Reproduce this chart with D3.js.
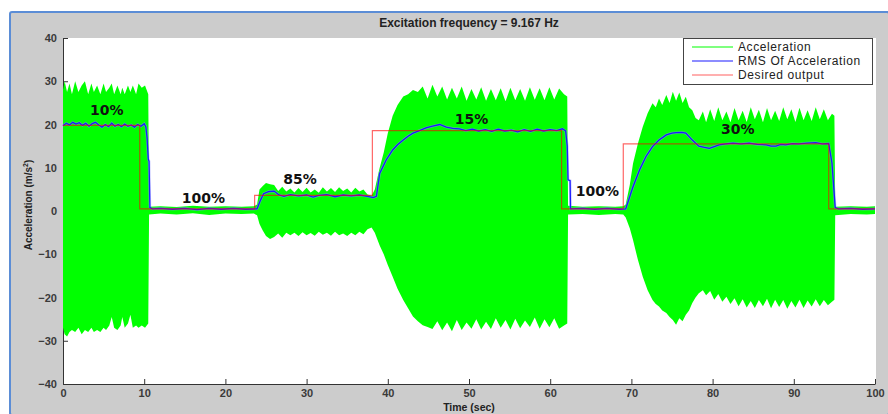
<!DOCTYPE html>
<html>
<head>
<meta charset="utf-8">
<script src="https://cdn.jsdelivr.net/npm/d3@7"></script>
<style>
  body { margin: 0; background: #fff; }
  svg { display: block; }
  .tick text { font-family: "Liberation Sans", Arial, sans-serif; font-weight: bold; fill: #3a3a3a; font-size: 11px; }
  .tick line, .domain { stroke: #333; }
</style>
</head>
<body>
<svg id="chart"></svg>
<script>
// Acceleration envelope (upper / lower peaks)
const accT = [0, 0.2, 0.5, 0.8, 1.1, 1.5, 1.9, 2.3, 2.7, 3.1, 3.5, 3.8, 4.2, 4.6, 5.0, 5.3, 5.7, 6.0, 6.3, 6.7, 7.1, 7.3, 7.6, 8.0, 8.3, 8.6, 9.0, 9.3, 9.7, 10.1, 10.5,
  10.6, 12, 14, 16, 18, 20, 22, 23.5, 23.9,
  24.2, 24.6, 25.0, 25.5, 26.0, 26.5, 27.0, 27.5, 28.0, 28.5, 29.0, 29.5, 30.0, 30.5, 31.0, 31.5, 32.0, 32.5, 33.0, 33.5, 34.0, 34.5, 35.0, 35.5, 36.0, 36.5, 37.0, 37.5, 38.0,
  38.4, 39.0, 39.5, 40.0, 40.6, 41.2, 41.9, 42.5, 43.1, 43.7, 44.3, 44.9, 45.5, 46.1, 46.7, 47.3, 47.9, 48.5, 49.1, 49.7, 50.3, 50.9, 51.5, 52.1, 52.7, 53.3, 53.9, 54.5, 55.1, 55.7, 56.3, 56.9, 57.5, 58.1, 58.7, 59.3, 59.9, 60.5, 61.1, 61.7, 62.1,
  62.2, 64, 66, 68, 69.0,
  69.3, 69.8, 70.2, 70.8, 71.4, 72.0, 72.6, 73.0, 73.4, 73.8, 74.3, 74.7, 75.1, 75.5, 75.9, 76.3, 76.7, 77.1, 77.5, 77.9, 78.3, 78.8, 79.2, 79.7, 80.2, 80.7, 81.2, 81.7, 82.2, 82.7, 83.2, 83.7, 84.2, 84.7, 85.2, 85.7, 86.2, 86.7, 87.2, 87.7, 88.2, 88.7, 89.2, 89.7, 90.2, 90.7, 91.2, 91.7, 92.2, 92.7, 93.2, 93.7, 94.2, 94.7, 95.0,
  95.1, 97, 99, 100];
const accUp = [28, 30, 27.5, 29.5, 27, 30, 27.5, 29, 30, 27, 29.5, 27.5, 29, 27, 29.5, 27.5, 28.5, 29.5, 27, 29, 27, 28.5, 27, 29, 27.5, 29, 27, 29.5, 28.5, 29, 27,
  1, 1.1, 0.9, 1.2, 1, 1.1, 1, 1.1, 1.5,
  5, 5.8, 6.5, 6.2, 6.0, 4.6, 5.6, 4.5, 5.2, 4.3, 5.3, 4.4, 5.4, 4.3, 5.0, 4.2, 5.5, 4.5, 5.3, 4.4, 5.5, 4.6, 5.2, 4.3, 5.4, 4.5, 5.0, 3.8, 3.5,
  5, 10, 13.5, 18, 22, 24.5, 26.5, 27, 28, 27.5, 28.8, 26, 29.2, 26.5, 28.8, 25.8, 28.5, 26, 28.8, 25.5, 28.2, 25.8, 28.6, 25.5, 28.2, 25.6, 28.4, 25.4, 28.5, 25.6, 28.2, 25.5, 28.6, 25.7, 28.4, 25.6, 28.6, 25.8, 28.3, 27, 26.5,
  1.2, 1, 1.1, 1, 1.1,
  1.5, 6, 11, 15.6, 19.5, 22.6, 24.9, 24, 26, 24.5, 26.8, 25, 27.6, 25.5, 27.4, 25, 26.4, 24, 23.3, 21.5, 21, 23, 20.5, 23.5, 20.8, 24, 21, 23, 20.5, 23.8, 21, 23.2, 20.6, 24, 21.2, 23.4, 20.5, 23.8, 21, 23.2, 20.8, 24, 21.2, 23.5, 20.6, 23.9, 21, 23.3, 20.8, 24, 21.2, 23.5, 21, 22.5, 22,
  1, 1.1, 1, 1.1];
const accLo = [-27, -28.5, -29, -28, -27.5, -28, -27, -28.5, -27.5, -28, -27, -28, -27.5, -28, -27, -27.5, -26.5, -24.5, -27, -27.5, -26.5, -24.5, -27, -26, -24, -27, -26.5, -27, -26.5, -27, -26,
  -0.8, -0.6, -0.8, -0.5, -0.9, -0.6, -0.7, -0.6, -1,
  -3, -4.5, -5.8, -6.5, -6.0, -5.2, -6.2, -5.0, -5.6, -5.0, -5.8, -4.9, -5.6, -5.1, -5.7, -4.8, -5.5, -5.0, -5.7, -4.8, -5.6, -5.2, -5.8, -5.0, -5.6, -4.8, -5.4, -4.2, -3.8,
  -5, -8, -10, -12.5, -15.2, -18, -20.6, -22.5, -24.4, -25.5, -26.4, -26.8, -27.3, -25.5, -27.6, -25.8, -27.8, -25.2, -27.5, -25.8, -27.2, -25, -27.4, -25.6, -27.3, -24.8, -27, -25.2, -27.4, -24.9, -27.1, -25.3, -26.8, -24.6, -27.2, -25, -26.9, -24.8, -27.2, -26.5, -26,
  -0.8, -0.7, -0.9, -0.7, -0.8,
  -1.5, -4, -6.7, -11.3, -15.2, -18.3, -20.6, -21.5, -22.1, -23, -23.6, -24.5, -25.2, -26.3, -24.8, -25.5, -24, -23, -21.3, -20, -19, -18.3, -19.5, -18.5, -20.5, -19.2, -21, -19.8, -21.5, -20.2, -22, -20.4, -22.3, -20.8, -22.4, -20.6, -22, -20.3, -22.5, -20.5, -22.2, -20.6, -22.6, -20.8, -22.3, -20.5, -22.4, -20.7, -22.1, -20.4, -22, -20.6, -21.8, -21, -20.5,
  -1, -0.7, -0.8, -0.7];

// RMS of acceleration
const rmsT = [0, 0.4, 0.8, 1.2, 1.6, 2.0, 2.4, 2.8, 3.2, 3.6, 4.0, 4.4, 4.8, 5.2, 5.6, 6.0, 6.4, 6.8, 7.2, 7.6, 8.0, 8.4, 8.8, 9.2, 9.6, 10.0, 10.2, 10.35, 10.5, 10.6, 10.7, 11,
  12, 13.5, 15, 16.5, 18, 19.5, 21, 22.5, 23.9,
  24.3, 24.7, 25.3, 26.0, 26.6, 27.2, 28, 29, 30, 30.8, 31.5, 32.5, 33.5, 34.5, 35.5, 36.5, 37.5, 38.2, 38.6,
  39.0, 39.8, 40.6, 41.2, 41.9, 42.5, 43.1, 43.9, 44.7, 45.5, 46.4, 47.2, 48.0, 48.8, 49.6, 50.4, 51.2, 52.0, 52.8, 53.6, 54.4, 55.2, 56.0, 56.8, 57.6, 58.4, 59.2, 60.0, 60.8, 61.5, 61.9, 62.1, 62.2, 62.45, 62.5,
  64, 65.5, 67, 68.5, 69.3,
  70.2, 71.0, 71.8, 72.6, 73.4, 74.3, 75.0, 75.5, 76.2, 76.7, 77.5, 78.3, 79.0, 79.6, 80.2, 80.8, 81.6, 82.5, 83.5, 84.5, 85.5, 86.6, 87.2, 87.8, 88.4, 89.0, 89.8, 90.6, 91.6, 92.7, 93.5, 94.3, 94.7, 95.1,
  95.5, 97, 98.5, 100];
const rmsV = [19.7, 20.3, 19.9, 20.5, 20.1, 20.4, 19.8, 20.3, 19.6, 20.2, 20.5, 19.9, 19.4, 20.0, 19.5, 20.3, 19.6, 20.0, 19.5, 20.1, 19.6, 19.9, 19.4, 20.0, 19.6, 20.2, 19.5, 17, 12, 11.5, 0.8, 0.5,
  0.6, 0.4, 0.6, 0.3, 0.6, 0.4, 0.6, 0.4, 0.5,
  2.4, 4.0, 4.5, 4.6, 3.7, 3.4, 3.8, 3.5, 3.7, 3.2, 3.6, 3.8, 3.3, 3.7, 3.5, 3.7, 3.4, 3.1, 3.4,
  8.7, 11.8, 14.1, 15.3, 16.4, 17.3, 18.0, 18.6, 19.2, 19.6, 20.0, 19.4, 19.1, 19.0, 18.6, 18.9, 18.5, 18.8, 18.4, 18.9, 18.5, 18.7, 18.3, 18.8, 18.4, 18.9, 18.5, 18.8, 18.6, 19.0, 18.5, 15, 7.2, 7.0, 0.5,
  0.6, 0.4, 0.6, 0.4, 0.5,
  5.6, 9.5, 12.6, 14.9, 16.4, 17.6, 18.0, 18.1, 18.2, 18.0, 16.4, 15.0, 14.7, 14.5, 14.9, 15.3, 15.5, 15.7, 15.5, 15.7, 15.4, 15.3, 15.0, 15.0, 15.4, 15.3, 15.6, 15.5, 15.7, 15.8, 15.5, 15.6, 11.1, 0.8,
  0.5, 0.6, 0.4, 0.5];

// Desired output (steps)
const desT = [0, 9.45, 23.6, 38.1, 61.4, 69.0, 94.3, 100];
const desV = [19.8, 0.5, 3.6, 18.6, 0.5, 15.5, 0.5, 0.5];

// percentage labels
const noteText = ["10%", "100%", "85%", "15%", "100%", "30%"];
const noteT = [5.4, 17.3, 29.2, 50.3, 65.8, 83.1];
const noteV = [23.4, 3.1, 7.3, 21.2, 4.7, 18.9];

const xTicks = d3.range(0, 101, 10);
const yTicks = d3.range(-40, 41, 10);
const legendNames = ["Acceleration", "RMS Of Acceleration", "Desired output"];
const legendColors = ["#00ff00", "#1a1aff", "#ff6060"];

const width = 888, height = 414;
const svg = d3.select("#chart").attr("width", width).attr("height", height);

// figure background with blue window frame
svg.append("rect").attr("x", 10).attr("y", 12).attr("width", width - 9).attr("height", height - 11)
  .attr("fill", "#cccccc").attr("stroke", "#5b8dd6").attr("stroke-width", 2).attr("rx", 2);

let x = d3.scaleLinear().domain([0, 100]).range([63, 875]);
let y = d3.scaleLinear().domain([-40, 40]).range([384, 38]);

svg.append("rect").attr("x", x(0)).attr("y", y(40))
  .attr("width", x(100) - x(0) + 1).attr("height", y(-40) - y(40)).attr("fill", "#fff");

svg.append("text").attr("x", (x(0) + x(100)) / 2).attr("y", 27)
  .attr("text-anchor", "middle")
  .style("font-family", "Liberation Sans, Arial, sans-serif").style("font-weight", "bold").style("font-size", "12px")
  .style("fill", "#222")
  .text("Excitation frequency = 9.167 Hz");

// axes
svg.append("g").attr("transform", "translate(0," + y(-40) + ")")
  .call(d3.axisBottom(x).tickValues(xTicks).tickSize(-5).tickSizeOuter(0).tickPadding(5));
svg.append("g").attr("transform", "translate(" + x(0) + ",0)")
  .call(d3.axisLeft(y).tickValues(yTicks).tickSize(-5).tickSizeOuter(0).tickPadding(6));

svg.append("text").attr("x", (x(0) + x(100)) / 2).attr("y", 411)
  .attr("text-anchor", "middle")
  .style("font-family", "Liberation Sans, Arial, sans-serif").style("font-weight", "bold").style("font-size", "10.5px")
  .style("fill", "#222")
  .text("Time (sec)");

svg.append("text").attr("transform", "translate(32,205) rotate(-90)")
  .attr("text-anchor", "middle")
  .style("font-family", "Liberation Sans, Arial, sans-serif").style("font-weight", "bold").style("font-size", "10px")
  .style("fill", "#222")
  .html("Acceleration (m/s<tspan dy='-4' font-size='7px'>2</tspan><tspan dy='4'>)</tspan>");

// acceleration band
let accData = accT.map(function(t, i) { return { t: t, up: accUp[i], lo: accLo[i] }; });
svg.append("path").datum(accData)
  .attr("fill", "#00ff00")
  .attr("d", d3.area()
    .x(function(d) { return x(d.t); })
    .y0(function(d) { return y(d.lo); })
    .y1(function(d) { return y(d.up); }));

// RMS line
let rmsData = rmsT.map(function(t, i) { return { t: t, v: rmsV[i] }; });
let rmsLine = d3.line().x(function(d) { return x(d.t); }).y(function(d) { return y(d.v); });
svg.append("path").datum(rmsData).attr("fill", "none")
  .attr("stroke", "#8f8fff").attr("stroke-width", 2.6).attr("stroke-opacity", 0.5).attr("d", rmsLine);
svg.append("path").datum(rmsData).attr("fill", "none")
  .attr("stroke", "#1a1aff").attr("stroke-width", 1.3).attr("d", rmsLine);

// desired output
let desData = desT.map(function(t, i) { return { t: t, v: desV[i] }; });
svg.append("path").datum(desData).attr("fill", "none")
  .attr("stroke", "#ff0000").attr("stroke-width", 1.2).attr("stroke-opacity", 0.6)
  .attr("d", d3.line().curve(d3.curveStepAfter).x(function(d) { return x(d.t); }).y(function(d) { return y(d.v); }));

// percentage annotations
noteText.forEach(function(s, i) {
  svg.append("text").attr("x", x(noteT[i])).attr("y", y(noteV[i]))
    .attr("text-anchor", "middle").attr("dy", "0.36em")
    .style("font-family", "DejaVu Sans, sans-serif").style("font-weight", "bold").style("font-size", "14px")
    .style("fill", "#111")
    .text(s);
});

// legend
let lg = svg.append("g");
lg.append("rect").attr("x", 683.5).attr("y", 38.5).attr("width", 189).attr("height", 46)
  .attr("fill", "#fff").attr("stroke", "#444");
legendNames.forEach(function(name, i) {
  let ly = 47 + i * 14;
  lg.append("line").attr("x1", 692).attr("x2", 733).attr("y1", ly).attr("y2", ly)
    .attr("stroke", legendColors[i]).attr("stroke-width", 1.2);
  lg.append("text").attr("x", 738).attr("y", ly).attr("dy", "0.35em")
    .style("font-family", "Liberation Sans, Arial, sans-serif").style("font-size", "12px")
    .style("letter-spacing", "0.6px").style("fill", "#222")
    .text(name);
});
</script>
</body>
</html>
